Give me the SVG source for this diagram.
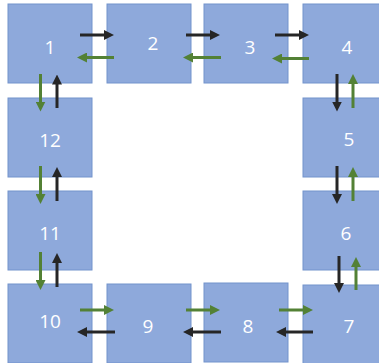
<svg xmlns="http://www.w3.org/2000/svg" width="379" height="363" viewBox="0 0 379 363">
<style>
.box{fill:#8EA9DB;stroke:#7393CC;stroke-width:1}
.lbl{font-family:"Open Sans","Liberation Sans",sans-serif;font-size:19px;fill:#FFFFFF;text-anchor:middle}
.dk{stroke:#262626;stroke-width:3;fill:none;marker-end:url(#hd)}
.gr{stroke:#538135;stroke-width:3;fill:none;marker-end:url(#hg)}
</style>
<defs>
<marker id="hd" viewBox="0 0 10 10" markerWidth="10" markerHeight="10" refX="1" refY="5" orient="auto" markerUnits="userSpaceOnUse"><path d="M0,0 L10,5 L0,10 z" fill="#262626"/></marker>
<marker id="hg" viewBox="0 0 10 10" markerWidth="10" markerHeight="10" refX="1" refY="5" orient="auto" markerUnits="userSpaceOnUse"><path d="M0,0 L10,5 L0,10 z" fill="#538135"/></marker>
</defs>
<rect width="379" height="363" fill="#FFFFFF"/>
<g id="n1"><rect class="box" x="8" y="4" width="84" height="79"/><text class="lbl" x="50" y="54">1</text></g>
<g id="n2"><rect class="box" x="107" y="4" width="84" height="79"/><text class="lbl" x="153" y="50">2</text></g>
<g id="n3"><rect class="box" x="204" y="4" width="84" height="79"/><text class="lbl" x="250" y="54">3</text></g>
<g id="n4"><rect class="box" x="303" y="4" width="84" height="79"/><text class="lbl" x="347" y="54">4</text></g>
<g id="n5"><rect class="box" x="303" y="98" width="84" height="79"/><text class="lbl" x="349" y="146">5</text></g>
<g id="n6"><rect class="box" x="303" y="191" width="84" height="79"/><text class="lbl" x="346" y="240">6</text></g>
<g id="n7"><rect class="box" x="303" y="285" width="84" height="79"/><text class="lbl" x="349" y="333">7</text></g>
<g id="n8"><rect class="box" x="204" y="283" width="84" height="79"/><text class="lbl" x="248" y="333">8</text></g>
<g id="n9"><rect class="box" x="107" y="284" width="84" height="79"/><text class="lbl" x="148" y="333">9</text></g>
<g id="n10"><rect class="box" x="8" y="284" width="84" height="79"/><text class="lbl" x="50" y="328">10</text></g>
<g id="n11"><rect class="box" x="8" y="191" width="84" height="79"/><text class="lbl" x="50" y="240">11</text></g>
<g id="n12"><rect class="box" x="8" y="98" width="84" height="79"/><text class="lbl" x="50" y="147">12</text></g>
<g id="connectors">
<line class="dk" x1="80" y1="35" x2="105" y2="35"/>
<line class="dk" x1="186" y1="35" x2="211" y2="35"/>
<line class="dk" x1="275" y1="35" x2="300" y2="35"/>
<line class="gr" x1="114" y1="57.5" x2="86" y2="57.5"/>
<line class="gr" x1="221" y1="57.5" x2="192" y2="57.5"/>
<line class="gr" x1="309" y1="58.5" x2="281" y2="58.5"/>
<line class="gr" x1="40.5" y1="74" x2="40.5" y2="102.5"/>
<line class="gr" x1="40.5" y1="166" x2="40.5" y2="195"/>
<line class="gr" x1="40.5" y1="252" x2="40.5" y2="281"/>
<line class="dk" x1="57" y1="108" x2="57" y2="83.5"/>
<line class="dk" x1="57" y1="201" x2="57" y2="176"/>
<line class="dk" x1="57" y1="287" x2="57" y2="262"/>
<line class="gr" x1="80" y1="310" x2="105" y2="310"/>
<line class="gr" x1="186" y1="310" x2="211" y2="310"/>
<line class="gr" x1="279" y1="310" x2="304" y2="310"/>
<line class="dk" x1="115" y1="332" x2="86" y2="332"/>
<line class="dk" x1="221" y1="332" x2="192" y2="332"/>
<line class="dk" x1="313" y1="332" x2="285" y2="332"/>
<line class="dk" x1="337" y1="74" x2="337" y2="102.5"/>
<line class="dk" x1="337" y1="166" x2="337" y2="195"/>
<line class="dk" x1="339" y1="256" x2="339" y2="284"/>
<line class="gr" x1="353" y1="108" x2="353" y2="83"/>
<line class="gr" x1="353" y1="201" x2="353" y2="176"/>
<line class="gr" x1="356" y1="290" x2="356" y2="266"/>
</g>
</svg>
